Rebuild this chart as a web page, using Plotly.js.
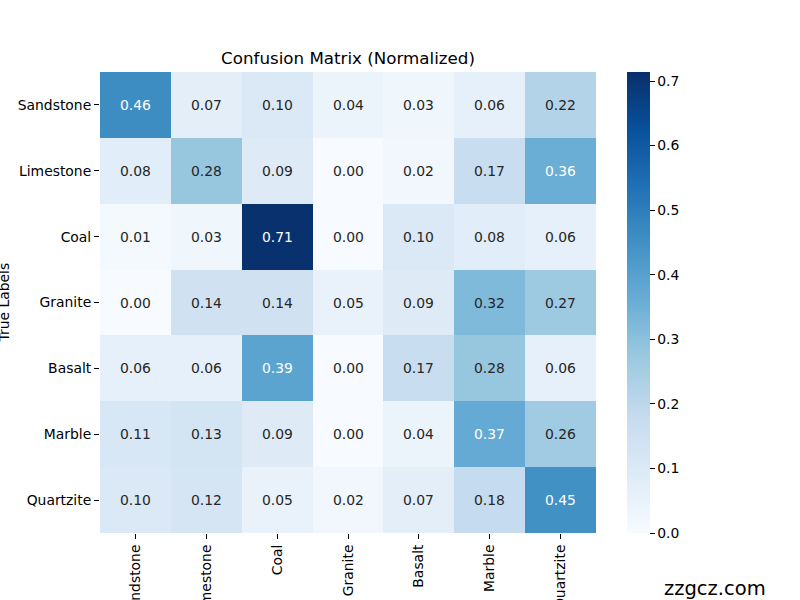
<!DOCTYPE html>
<html>
<head>
<meta charset="utf-8">
<script src="https://cdn.plot.ly/plotly-3.0.1.min.js"></script>
<style>html,body{margin:0;padding:0;background:#fff;}#chart{width:800px;height:600px;}</style>
</head>
<body>
<div id="chart"></div>
<script>
const labels = ["Sandstone", "Limestone", "Coal", "Granite", "Basalt", "Marble", "Quartzite"];
const sandstoneRow = [0.46, 0.07, 0.10, 0.04, 0.03, 0.06, 0.22];
const limestoneRow = [0.08, 0.28, 0.09, 0.00, 0.02, 0.17, 0.36];
const coalRow      = [0.01, 0.03, 0.71, 0.00, 0.10, 0.08, 0.06];
const graniteRow   = [0.00, 0.14, 0.14, 0.05, 0.09, 0.32, 0.27];
const basaltRow    = [0.06, 0.06, 0.39, 0.00, 0.17, 0.28, 0.06];
const marbleRow    = [0.11, 0.13, 0.09, 0.00, 0.04, 0.37, 0.26];
const quartziteRow = [0.10, 0.12, 0.05, 0.02, 0.07, 0.18, 0.45];
const z = [sandstoneRow, limestoneRow, coalRow, graniteRow, basaltRow, marbleRow, quartziteRow];
const cbTicks = [0.0, 0.1, 0.2, 0.3, 0.4, 0.5, 0.6, 0.7];

const blues = [
  [0.000, '#f7fbff'], [0.125, '#deebf7'], [0.250, '#c6dbef'], [0.375, '#9ecae1'],
  [0.500, '#6baed6'], [0.625, '#4292c6'], [0.750, '#2171b5'], [0.875, '#08519c'],
  [1.000, '#08306b']
];
const FONT = 'DejaVu Sans, sans-serif';
const zmax = 0.714;

const annotations = [];
z.forEach((row, i) => row.forEach((v, j) => {
  annotations.push({
    x: labels[j], y: labels[i], xref: 'x', yref: 'y',
    text: v.toFixed(2), showarrow: false,
    font: {family: FONT, size: 13.9, color: v > 0.34 ? '#ffffff' : '#262626'}
  });
}));
annotations.push({
  xref: 'paper', yref: 'paper', x: (3 - 100) / 496, y: 0.5,
  text: 'True Labels', textangle: -90, showarrow: false,
  xanchor: 'center', yanchor: 'middle',
  font: {family: FONT, size: 13.9, color: '#000'}
});
annotations.push({
  xref: 'paper', yref: 'paper', x: (715 - 100) / 496, y: -(588 - 533) / 461,
  text: 'zzgcz.com', showarrow: false, xanchor: 'center', yanchor: 'middle',
  font: {family: FONT, size: 19.5, color: '#000'}
});

const data = [{
  type: 'heatmap', z: z, x: labels, y: labels,
  colorscale: blues, zmin: 0, zmax: zmax, xgap: 0, ygap: 0,
  hoverinfo: 'skip',
  colorbar: {
    x: (627 - 100) / 496, xanchor: 'left', xref: 'paper', xpad: 0,
    y: 0.5, yanchor: 'middle', len: 1, lenmode: 'fraction', ypad: 0,
    thickness: 23, outlinewidth: 0,
    tickvals: cbTicks, ticktext: cbTicks.map(t => t.toFixed(1)),
    ticks: 'outside', ticklen: 5, tickwidth: 1, tickcolor: '#000',
    tickfont: {family: FONT, size: 13.9, color: '#000'}
  }
}];

const layout = {
  width: 800, height: 600,
  margin: {l: 100, r: 204, t: 72, b: 67, pad: 0},
  paper_bgcolor: '#fff', plot_bgcolor: '#fff',
  title: {
    text: 'Confusion Matrix (Normalized)',
    font: {family: FONT, size: 16.7, color: '#000'},
    x: 0.5, xref: 'paper', xanchor: 'center',
    y: 1 - 58 / 600, yref: 'container', yanchor: 'middle'
  },
  xaxis: {
    type: 'category', tickangle: -90, automargin: false,
    ticks: 'outside', ticklen: 5, tickwidth: 1, tickcolor: '#000',
    tickfont: {family: FONT, size: 13.9, color: '#000'},
    showgrid: false, zeroline: false, showline: false
  },
  yaxis: {
    type: 'category', autorange: 'reversed', automargin: false,
    ticks: 'outside', ticklen: 5, tickwidth: 1, tickcolor: '#000',
    tickfont: {family: FONT, size: 13.9, color: '#000'},
    showgrid: false, zeroline: false, showline: false
  },
  annotations: annotations,
  font: {family: FONT}
};

Plotly.newPlot('chart', data, layout, {displayModeBar: false, staticPlot: true});
</script>
</body>
</html>
